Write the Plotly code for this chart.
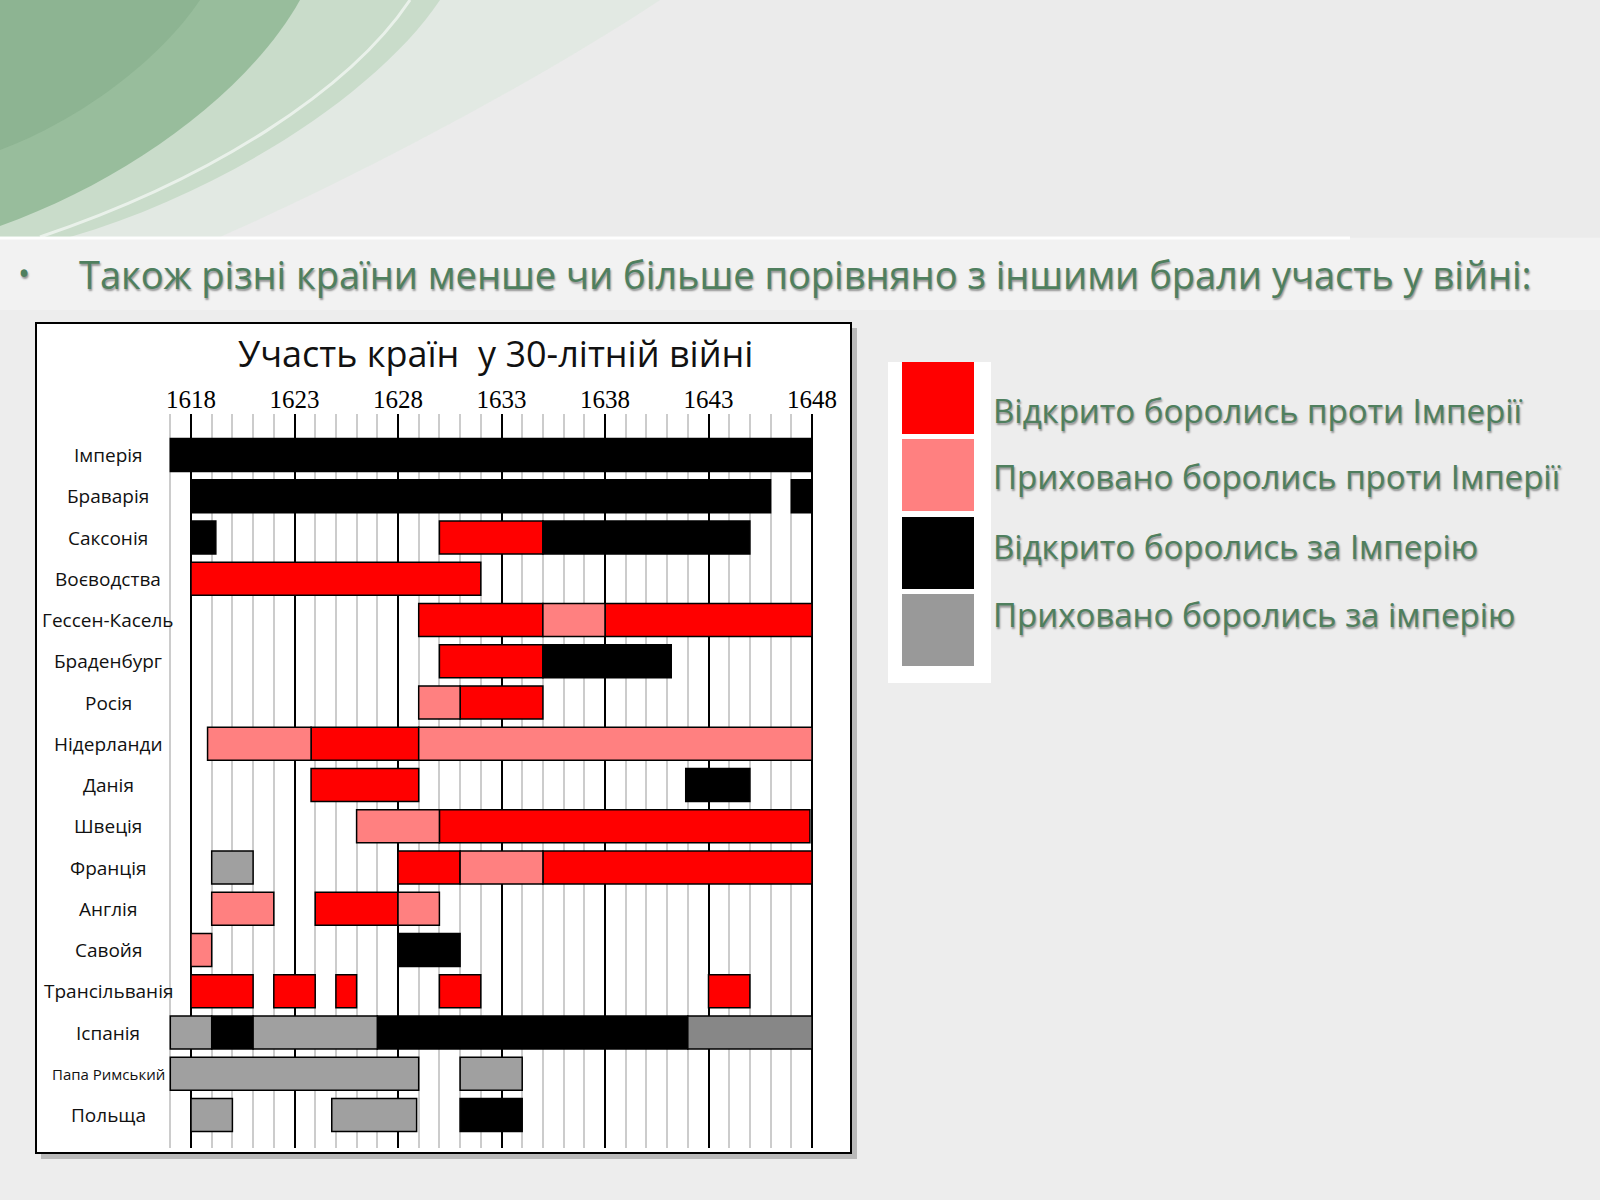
import plotly.graph_objects as go

# ---------------- data ----------------
countries = ["Імперія", "Браварія", "Саксонія", "Воєводства", "Гессен-Касель",
             "Браденбург", "Росія", "Нідерланди", "Данія", "Швеція", "Франція",
             "Англія", "Савойя", "Трансільванія", "Іспанія", "Папа Римський", "Польща"]

major_years = [1618, 1623, 1628, 1633, 1638, 1643, 1648]

seg_country = ["Імперія",
               "Браварія", "Браварія",
               "Саксонія", "Саксонія", "Саксонія",
               "Воєводства",
               "Гессен-Касель", "Гессен-Касель", "Гессен-Касель",
               "Браденбург", "Браденбург",
               "Росія", "Росія",
               "Нідерланди", "Нідерланди", "Нідерланди",
               "Данія", "Данія",
               "Швеція", "Швеція",
               "Франція", "Франція", "Франція", "Франція",
               "Англія", "Англія", "Англія",
               "Савойя", "Савойя",
               "Трансільванія", "Трансільванія", "Трансільванія", "Трансільванія", "Трансільванія",
               "Іспанія", "Іспанія", "Іспанія", "Іспанія", "Іспанія",
               "Папа Римський", "Папа Римський",
               "Польща", "Польща", "Польща"]
seg_start = [1617,
             1618, 1647,
             1618, 1630, 1635,
             1618,
             1629, 1635, 1638,
             1630, 1635,
             1629, 1631,
             1618.8, 1623.8, 1629,
             1623.8, 1641.9,
             1626, 1630,
             1619, 1628, 1631, 1635,
             1619, 1624, 1628,
             1618, 1628,
             1618, 1622, 1625, 1630, 1643,
             1617, 1619, 1621, 1627, 1642,
             1617, 1631,
             1618, 1624.8, 1631]
seg_end = [1648,
           1646, 1648,
           1619.2, 1635, 1645,
           1632,
           1635, 1638, 1648,
           1635, 1641.2,
           1631, 1635,
           1623.8, 1629, 1648,
           1629, 1645,
           1630, 1647.9,
           1621, 1631, 1635, 1648,
           1622, 1628, 1630,
           1619, 1631,
           1621, 1624, 1626, 1632, 1645,
           1619, 1621, 1627, 1642, 1648,
           1629, 1634,
           1620, 1628.9, 1634]
# R = openly against Empire, P = covertly against, B = openly for, G = covertly for, D = covertly for (dark)
seg_kind = ["B",
            "B", "B",
            "B", "R", "B",
            "R",
            "R", "P", "R",
            "R", "B",
            "P", "R",
            "P", "R", "P",
            "R", "B",
            "P", "R",
            "G", "R", "P", "R",
            "P", "R", "P",
            "P", "B",
            "R", "R", "R", "R", "R",
            "G", "B", "G", "B", "D",
            "G", "G",
            "G", "G", "B"]

legend_labels = ["Відкрито боролись проти Імперії",
                 "Приховано боролись проти Імперії",
                 "Відкрито боролись за Імперію",
                 "Приховано боролись за імперію"]

chart_title = "Участь країн  у 30-літній війні"
slide_title = "Також різні країни менше чи більше порівняно з іншими брали участь у війні:"

# ---------------- styles ----------------
kind_color = {"R": "#ff0000", "P": "#ff8080", "B": "#000000", "G": "#a0a0a0", "D": "#878787"}
legend_colors = ["#ff0000", "#ff8080", "#000000", "#999999"]
GREEN = "#4f7f5e"
SHADOW = "1px 2px 2px rgba(0,0,0,0.4)"
W, H = 1600, 1200


def X(px):
    return px / W


def Y(py):
    return 1 - py / H


fig = go.Figure()

for k in ["R", "P", "B", "G", "D"]:
    idx = [i for i, kk in enumerate(seg_kind) if kk == k]
    fig.add_trace(go.Bar(
        orientation="h",
        y=[seg_country[i] for i in idx],
        base=[seg_start[i] for i in idx],
        x=[seg_end[i] - seg_start[i] for i in idx],
        width=0.8,
        marker=dict(color=kind_color[k], line=dict(color="#000000", width=1.5)),
        showlegend=False,
        hoverinfo="skip",
    ))

shapes = []
# header decoration (green wave)
shapes.append(dict(type="rect", xref="paper", yref="paper", x0=0, x1=1, y0=Y(237), y1=1,
                   fillcolor="#ebebeb", line=dict(width=0), layer="below"))
shapes.append(dict(type="path", xref="paper", yref="paper", layer="below",
                   path=(f"M {X(0)} {Y(0)} L {X(660)} {Y(0)} "
                         f"C {X(540)} {Y(80)} {X(350)} {Y(180)} {X(220)} {Y(237)} "
                         f"L {X(0)} {Y(237)} Z"),
                   fillcolor="rgba(220,232,221,0.6)", line=dict(width=0)))
shapes.append(dict(type="path", xref="paper", yref="paper", layer="below",
                   path=(f"M {X(0)} {Y(0)} L {X(440)} {Y(0)} "
                         f"C {X(380)} {Y(90)} {X(230)} {Y(190)} {X(70)} {Y(237)} "
                         f"L {X(0)} {Y(237)} Z"),
                   fillcolor="#c9dcca", line=dict(width=0)))
shapes.append(dict(type="path", xref="paper", yref="paper", layer="below",
                   path=(f"M {X(410)} {Y(0)} "
                         f"C {X(350)} {Y(90)} {X(210)} {Y(180)} {X(40)} {Y(237)} "),
                   fillcolor="rgba(0,0,0,0)", line=dict(width=3, color="rgba(255,255,255,0.6)")))
shapes.append(dict(type="path", xref="paper", yref="paper", layer="below",
                   path=(f"M {X(0)} {Y(0)} L {X(300)} {Y(0)} "
                         f"C {X(250)} {Y(90)} {X(130)} {Y(180)} {X(0)} {Y(226)} Z"),
                   fillcolor="#98bd9c", line=dict(width=0)))
shapes.append(dict(type="path", xref="paper", yref="paper", layer="below",
                   path=(f"M {X(0)} {Y(0)} L {X(200)} {Y(0)} "
                         f"C {X(160)} {Y(60)} {X(80)} {Y(120)} {X(0)} {Y(150)} Z"),
                   fillcolor="rgba(130,172,136,0.5)", line=dict(width=0)))
# light band under header
shapes.append(dict(type="rect", xref="paper", yref="paper", x0=0, x1=1, y0=Y(310), y1=Y(238),
                   fillcolor="rgba(255,255,255,0.3)", line=dict(width=0), layer="below"))
shapes.append(dict(type="line", xref="paper", yref="paper", x0=0, x1=X(1350), y0=Y(238), y1=Y(238),
                   line=dict(color="rgba(255,255,255,0.9)", width=3), layer="below"))
# chart frame with shadow
shapes.append(dict(type="rect", xref="paper", yref="paper", x0=X(41), x1=X(857), y0=Y(1159), y1=Y(328),
                   fillcolor="rgba(0,0,0,0.22)", line=dict(width=0), layer="below"))
shapes.append(dict(type="rect", xref="paper", yref="paper", x0=X(36), x1=X(851), y0=Y(1153), y1=Y(323),
                   fillcolor="#ffffff", line=dict(color="#000000", width=2), layer="below"))
# legend box
shapes.append(dict(type="rect", xref="paper", yref="paper", x0=X(888), x1=X(991), y0=Y(683), y1=Y(362),
                   fillcolor="#ffffff", line=dict(width=0), layer="below"))
sq_top = [362, 439, 517, 594]
for t, c in zip(sq_top, legend_colors):
    shapes.append(dict(type="rect", xref="paper", yref="paper", x0=X(902), x1=X(974), y0=Y(t + 72), y1=Y(t),
                       fillcolor=c, line=dict(width=0), layer="below"))

annotations = []
# bullet + slide title
annotations.append(dict(xref="paper", yref="paper", x=X(24), y=Y(272), text="•", showarrow=False,
                        xanchor="center", yanchor="middle",
                        font=dict(family="Open Sans", size=32, color=GREEN, shadow=SHADOW)))
annotations.append(dict(xref="paper", yref="paper", x=X(77), y=Y(274), text=slide_title, showarrow=False,
                        xanchor="left", yanchor="middle",
                        font=dict(family="Open Sans", size=38, color=GREEN, shadow=SHADOW)))
# chart title
annotations.append(dict(xref="paper", yref="paper", x=X(495), y=Y(354), text=chart_title, showarrow=False,
                        xanchor="center", yanchor="middle",
                        font=dict(family="Open Sans", size=36, color="#111111")))
# legend texts
legend_y = [410, 477, 546, 614]
for ly, lt in zip(legend_y, legend_labels):
    annotations.append(dict(xref="paper", yref="paper", x=X(991), y=Y(ly), text=lt, showarrow=False,
                            xanchor="left", yanchor="middle",
                            font=dict(family="Open Sans", size=33, color=GREEN, shadow=SHADOW)))
# row labels
for c in countries:
    annotations.append(dict(xref="paper", yref="y", x=X(108), y=c, text=c, showarrow=False,
                            xanchor="center", yanchor="middle",
                            font=dict(family="Open Sans", size=15 if c == "Папа Римський" else 19,
                                      color="#111111")))

minor_years = [y for y in range(1617, 1649) if y not in major_years]

fig.update_layout(
    width=W, height=H, autosize=False,
    margin=dict(l=0, r=0, t=0, b=0),
    paper_bgcolor="#ededed",
    plot_bgcolor="rgba(0,0,0,0)",
    barmode="overlay",
    shapes=shapes,
    annotations=annotations,
    xaxis=dict(domain=[X(159.95), X(843.05)], range=[1616.5, 1649.5], side="top",
               tickmode="array", tickvals=major_years, ticktext=[str(v) for v in major_years],
               tickfont=dict(family="Liberation Serif", size=25, color="#000000"),
               showgrid=True, gridcolor="#000000", gridwidth=2, zeroline=False, showline=False,
               ticks="", fixedrange=True,
               minor=dict(tickmode="array", tickvals=minor_years, showgrid=True,
                          gridcolor="#cccccc", gridwidth=2, ticks="")),
    yaxis=dict(domain=[Y(1148), Y(413.75)], type="category", categoryorder="array",
               categoryarray=countries, range=[16.8, -1.0], showticklabels=False,
               showgrid=False, zeroline=False, showline=False, fixedrange=True),
)

fig.write_html("out.html", config={"displayModeBar": False},
               post_script="document.body.style.margin='0px';document.body.style.overflow='hidden';")
